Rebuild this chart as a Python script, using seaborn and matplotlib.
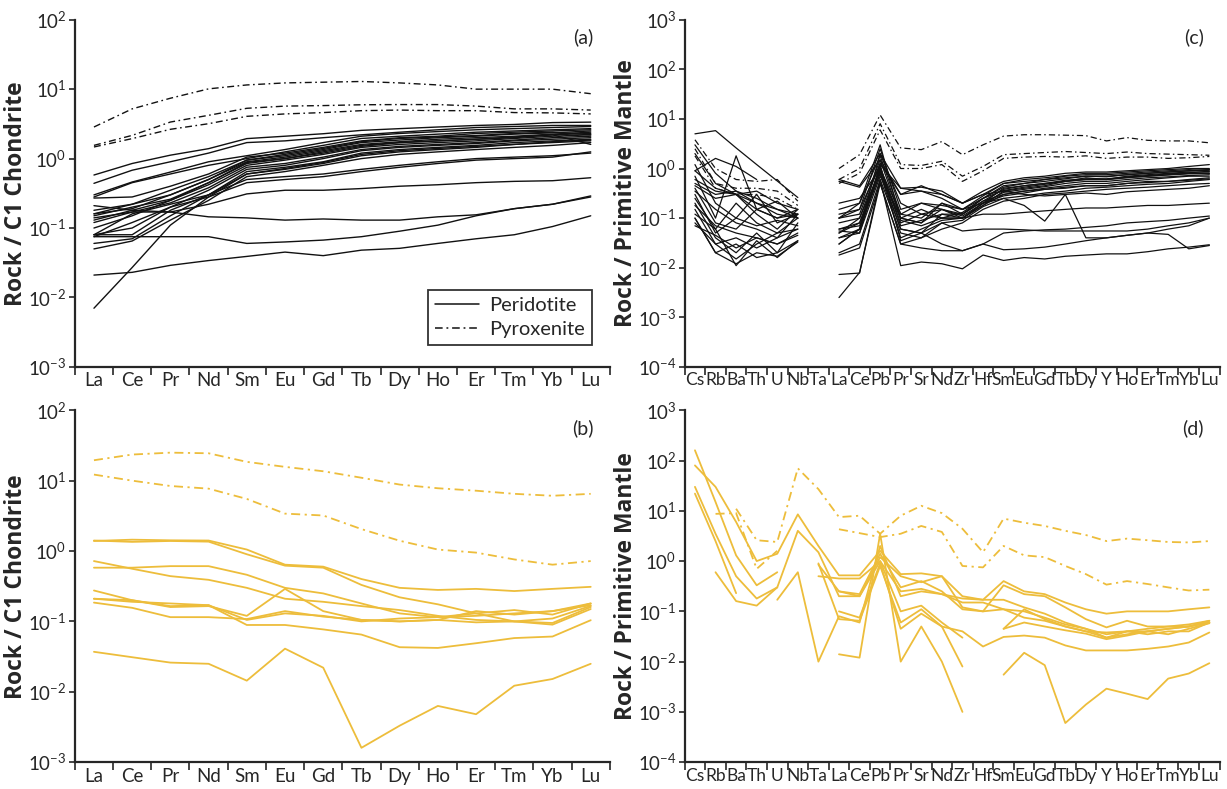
import numpy as np
import pandas as pd
import matplotlib
matplotlib.use('Agg')
import matplotlib.pyplot as plt
from matplotlib.lines import Line2D
from matplotlib.ticker import NullLocator
import seaborn as sns

nan = np.nan

# element order on the x axes
ree = ['La', 'Ce', 'Pr', 'Nd', 'Sm', 'Eu', 'Gd', 'Tb', 'Dy', 'Ho', 'Er', 'Tm', 'Yb', 'Lu']
spider = ['Cs', 'Rb', 'Ba', 'Th', 'U', 'Nb', 'Ta', 'La', 'Ce', 'Pb', 'Pr', 'Sr', 'Nd',
          'Zr', 'Hf', 'Sm', 'Eu', 'Gd', 'Tb', 'Dy', 'Y', 'Ho', 'Er', 'Tm', 'Yb', 'Lu']

# (a) chondrite normalised REE, black samples
a_peridotite = [
    [0.58, 0.85, 1.12, 1.39, 1.94, 2.1, 2.28, 2.55, 2.7, 2.85, 3.0, 3.1, 3.3, 3.35],
    [0.44, 0.68, 0.9, 1.2, 1.7, 1.8, 2.0, 2.2, 2.4, 2.6, 2.8, 2.9, 3.0, 3.0],
    [0.30, 0.46, 0.64, 0.9, 1.1, 1.35, 1.7, 2.1, 2.3, 2.45, 2.6, 2.7, 2.8, 2.9],
    [0.28, 0.45, 0.6, 0.8, 1.0, 1.25, 1.55, 1.95, 2.1, 2.25, 2.4, 2.5, 2.6, 2.7],
    [0.27, 0.28, 0.4, 0.6, 1.05, 1.2, 1.45, 1.8, 2.0, 2.1, 2.3, 2.4, 2.5, 2.6],
    [0.18, 0.22, 0.35, 0.55, 0.95, 1.1, 1.35, 1.7, 1.85, 2.0, 2.1, 2.25, 2.35, 2.5],
    [0.16, 0.19, 0.3, 0.5, 0.9, 1.05, 1.3, 1.6, 1.75, 1.9, 2.0, 2.1, 2.25, 2.4],
    [0.15, 0.2, 0.26, 0.45, 0.85, 1.0, 1.2, 1.5, 1.7, 1.8, 1.9, 2.0, 2.2, 2.3],
    [0.13, 0.18, 0.25, 0.42, 0.8, 0.95, 1.15, 1.45, 1.6, 1.7, 1.8, 1.95, 2.1, 2.2],
    [0.12, 0.17, 0.23, 0.38, 0.75, 0.85, 1.05, 1.35, 1.5, 1.6, 1.7, 1.85, 2.0, 2.1],
    [0.08, 0.1, 0.2, 0.35, 0.7, 0.8, 1.0, 1.3, 1.45, 1.55, 1.65, 1.8, 1.9, 2.0],
    [0.08, 0.08, 0.18, 0.3, 0.65, 0.75, 0.9, 1.2, 1.35, 1.45, 1.55, 1.7, 1.8, 1.9],
    [0.06, 0.07, 0.15, 0.3, 0.6, 0.7, 0.85, 1.1, 1.25, 1.35, 1.45, 1.6, 1.7, 1.8],
    [0.05, 0.065, 0.13, 0.25, 0.55, 0.65, 0.8, 1.0, 1.15, 1.25, 1.35, 1.45, 1.55, 1.7],
    [0.007, 0.027, 0.11, 0.28, 0.6, 0.72, 0.88, 1.15, 1.3, 1.4, 1.5, 1.6, 1.75, 1.85],
    [0.08, 0.16, 0.22, 0.3, 0.5, 0.55, 0.6, 0.7, 0.8, 0.9, 1.0, 1.05, 1.1, 1.2],
    [0.075, 0.12, 0.2, 0.28, 0.45, 0.5, 0.55, 0.65, 0.75, 0.85, 0.95, 1.0, 1.05, 1.25],
    [0.14, 0.17, 0.17, 0.22, 0.31, 0.35, 0.35, 0.37, 0.4, 0.42, 0.45, 0.47, 0.48, 0.53],
    [0.21, 0.18, 0.17, 0.145, 0.14, 0.13, 0.135, 0.13, 0.13, 0.145, 0.155, 0.19, 0.22, 0.29],
    [0.075, 0.075, 0.075, 0.075, 0.06, 0.063, 0.067, 0.075, 0.09, 0.11, 0.15, 0.19, 0.22, 0.28],
    [0.021, 0.023, 0.029, 0.034, 0.039, 0.045, 0.04, 0.048, 0.051, 0.06, 0.07, 0.08, 0.105, 0.15],
    [0.16, 0.22, 0.3, 0.5, 0.95, 1.15, 1.4, 1.75, 1.95, 2.05, 2.15, 2.3, 2.4, 2.2],
    [0.1, 0.15, 0.25, 0.45, 0.88, 1.0, 1.25, 1.55, 1.7, 1.8, 1.9, 2.05, 2.2, 1.6],
]
a_pyroxenite = [
    [2.85, 5.2, 7.4, 10.1, 11.5, 12.3, 12.6, 12.9, 12.3, 11.5, 10.0, 10.0, 10.0, 8.6],
    [1.55, 2.16, 3.36, 4.2, 5.3, 5.7, 5.8, 5.96, 6.0, 6.0, 5.7, 5.2, 5.2, 5.0],
    [1.47, 1.94, 2.64, 3.18, 4.06, 4.4, 4.6, 4.9, 5.0, 4.9, 4.9, 4.6, 4.55, 4.4],
]

# (b) chondrite normalised REE, yellow samples
b_peridotite = [
    [1.39, 1.45, 1.42, 1.41, 1.05, 0.64, 0.6, 0.40, 0.30, 0.28, 0.29, 0.27, 0.29, 0.31],
    [1.41, 1.35, 1.39, 1.36, 0.9, 0.62, 0.58, 0.33, 0.22, 0.175, 0.13, 0.10, 0.09, 0.15],
    [0.72, 0.56, 0.44, 0.39, 0.30, 0.21, 0.19, 0.165, 0.145, 0.12, 0.105, 0.10, 0.095, 0.16],
    [0.58, 0.58, 0.61, 0.61, 0.46, 0.30, 0.25, 0.18, 0.13, 0.115, 0.12, 0.13, 0.14, 0.18],
    [0.275, 0.20, 0.16, 0.165, 0.12, 0.29, 0.14, 0.105, 0.10, 0.105, 0.14, 0.125, 0.14, 0.17],
    [0.21, 0.19, 0.18, 0.17, 0.089, 0.089, 0.077, 0.065, 0.043, 0.042, 0.049, 0.058, 0.061, 0.104],
    [0.185, 0.156, 0.115, 0.115, 0.108, 0.14, 0.117, 0.105, 0.10, 0.105, 0.097, 0.10, 0.11, 0.166],
    [0.21, 0.2, 0.165, 0.17, 0.105, 0.13, 0.12, 0.1, 0.11, 0.115, 0.13, 0.145, 0.125, 0.18],
    [0.037, 0.031, 0.026, 0.025, 0.0144, 0.041, 0.022, 0.0016, 0.0033, 0.0063, 0.0048, 0.0122, 0.0152, 0.025],
]
b_pyroxenite = [
    [19.5, 23.5, 25.0, 24.5, 18.5, 15.7, 13.6, 11.0, 8.8, 7.8, 7.2, 6.5, 6.1, 6.5],
    [12.2, 10.0, 8.4, 7.7, 5.5, 3.4, 3.2, 2.05, 1.4, 1.05, 0.95, 0.76, 0.64, 0.72],
]

# (c) primitive mantle normalised, black samples
c_peridotite = [
    [5.0, 5.8, 2.6, 1.2, 0.56, 0.26, nan, 0.6, 0.45, 2.0, 0.4, 0.42, 0.35, 0.2, 0.35, 0.55, 0.65, 0.7, 0.8, 0.85, 0.85, 0.9, 0.95, 1.0, 1.1, 1.2],
    [0.9, 1.6, 1.1, 0.6, nan, nan, nan, 0.55, 0.42, 1.5, 0.3, 0.35, 0.3, 0.2, 0.3, 0.5, 0.6, 0.65, 0.72, 0.8, 0.8, 0.85, 0.9, 0.95, 1.0, 1.0],
    [0.7, 0.1, 1.8, 0.15, 0.1, 0.12, nan, 0.1, 0.2, 1.8, 0.12, 0.1, 0.2, 0.12, 0.25, 0.45, 0.5, 0.6, 0.65, 0.7, 0.7, 0.75, 0.8, 0.85, 0.9, 0.95],
    [0.6, 0.35, 0.3, 0.35, 0.2, 0.15, nan, 0.1, 0.15, 1.2, 0.4, 0.35, 0.25, 0.15, 0.28, 0.5, 0.55, 0.6, 0.7, 0.75, 0.75, 0.8, 0.85, 0.9, 0.95, 0.9],
    [0.5, 0.3, 0.35, 0.2, 0.12, 0.1, nan, 0.05, 0.1, 0.9, 0.1, 0.08, 0.15, 0.11, 0.2, 0.4, 0.45, 0.5, 0.55, 0.65, 0.6, 0.7, 0.75, 0.8, 0.85, 0.85],
    [0.4, 0.08, 0.06, 0.15, 0.1, 0.15, nan, 0.06, 0.08, 1.0, 0.08, 0.12, 0.1, 0.1, 0.18, 0.35, 0.4, 0.45, 0.55, 0.6, 0.6, 0.65, 0.7, 0.75, 0.8, 0.8],
    [0.3, 0.05, 0.1, 0.3, 0.08, 0.12, nan, 0.03, 0.06, 0.8, 0.06, 0.05, 0.12, 0.12, 0.22, 0.3, 0.35, 0.4, 0.45, 0.5, 0.5, 0.55, 0.6, 0.65, 0.7, 0.7],
    [0.25, 0.06, 0.2, 0.08, 0.05, 0.1, nan, 0.04, 0.05, 0.7, 0.1, 0.15, 0.1, 0.1, 0.2, 0.28, 0.32, 0.38, 0.42, 0.45, 0.45, 0.5, 0.55, 0.55, 0.6, 0.65],
    [0.2, 0.04, 0.02, 0.05, 0.02, 0.08, nan, 0.02, 0.03, 0.6, 0.05, 0.04, 0.08, 0.09, 0.17, 0.25, 0.28, 0.32, 0.35, 0.4, 0.42, 0.45, 0.48, 0.5, 0.55, 0.6],
    [0.15, 0.03, 0.015, 0.03, 0.05, 0.06, nan, 0.018, 0.025, 0.5, 0.03, 0.04, 0.06, 0.08, 0.15, 0.22, 0.25, 0.3, 0.32, 0.35, 0.38, 0.4, 0.42, 0.45, 0.48, 0.5],
    [0.12, 0.06, 0.011, 0.035, 0.016, 0.035, nan, 0.1, 0.12, 1.5, 0.1, 0.08, 0.2, 0.15, 0.2, 0.25, 0.18, 0.087, 0.3, 0.04, 0.04, 0.045, 0.05, 0.06, 0.07, 0.1],
    [0.1, 0.02, 0.03, 0.016, 0.02, 0.035, nan, 0.03, 0.06, 2.0, 0.2, 0.12, 0.15, 0.1, 0.12, 0.12, 0.13, 0.14, 0.15, 0.16, 0.16, 0.17, 0.18, 0.18, 0.19, 0.2],
    [0.08, 0.03, 0.04, 0.025, 0.04, 0.12, nan, 0.05, 0.08, 0.9, 0.06, 0.05, 0.08, 0.055, 0.06, 0.06, 0.058, 0.055, 0.055, 0.055, 0.055, 0.055, 0.06, 0.07, 0.08, 0.1],
    [3.0, 0.8, 0.35, 0.25, 0.15, 0.1, nan, 0.055, 0.05, 1.2, 0.035, 0.05, 0.03, 0.022, 0.03, 0.023, 0.024, 0.026, 0.03, 0.035, 0.04, 0.045, 0.05, 0.047, 0.024, 0.028],
    [0.1, 0.02, 0.012, 0.02, 0.017, 0.033, nan, 0.0073, 0.0078, 0.6, 0.011, 0.013, 0.012, 0.0095, 0.018, 0.014, 0.016, 0.015, 0.017, 0.018, 0.019, 0.019, 0.021, 0.024, 0.026, 0.029],
    [0.18, 0.07, 0.05, 0.04, 0.03, 0.05, nan, 0.0025, 0.008, 0.5, 0.03, 0.025, 0.022, 0.022, 0.03, 0.05, 0.055, 0.058, 0.06, 0.065, 0.07, 0.08, 0.085, 0.09, 0.1, 0.11],
    [0.9, 0.4, 0.3, 0.2, 0.15, 0.12, nan, 0.12, 0.15, 2.5, 0.15, 0.2, 0.18, 0.15, 0.25, 0.42, 0.5, 0.55, 0.62, 0.7, 0.68, 0.75, 0.8, 0.85, 0.9, 0.95],
    [2.0, 0.5, 0.3, 0.15, 0.22, 0.1, nan, 0.2, 0.25, 1.0, 0.12, 0.2, 0.15, 0.12, 0.22, 0.38, 0.45, 0.5, 0.58, 0.62, 0.62, 0.68, 0.72, 0.78, 0.82, 0.88],
    [0.35, 0.15, 0.08, 0.06, 0.04, 0.06, nan, 0.06, 0.07, 0.8, 0.04, 0.06, 0.09, 0.1, 0.18, 0.3, 0.35, 0.38, 0.4, 0.45, 0.45, 0.5, 0.52, 0.55, 0.58, 0.62],
    [0.45, 0.25, 0.3, 0.12, 0.06, 0.15, nan, 0.08, 0.1, 1.3, 0.3, 0.45, 0.3, 0.2, 0.3, 0.35, 0.3, 0.28, 0.3, 0.32, 0.3, 0.34, 0.36, 0.38, 0.4, 0.45],
    [1.2, 0.2, 0.1, 0.07, 0.09, 0.07, nan, 0.15, 0.2, 3.0, 0.09, 0.07, 0.1, 0.13, 0.25, 0.36, 0.42, 0.48, 0.55, 0.6, 0.6, 0.66, 0.7, 0.74, 0.78, 0.8],
    [0.07, 0.045, 0.025, 0.04, 0.03, 0.045, nan, 0.04, 0.06, 1.1, 0.07, 0.09, 0.12, 0.1, 0.2, 0.33, 0.38, 0.43, 0.5, 0.55, 0.55, 0.6, 0.65, 0.68, 0.72, 0.75],
]
c_pyroxenite = [
    [3.8, 1.0, 0.6, 0.55, 0.6, 0.22, nan, 1.0, 1.9, 12.0, 2.6, 2.4, 3.5, 1.9, 3.0, 4.5, 4.8, 4.8, 4.7, 4.6, 3.6, 4.2, 3.7, 3.6, 3.6, 3.3],
    [2.5, 0.5, 0.4, 0.4, 0.35, 0.18, nan, 0.6, 1.0, 8.0, 1.2, 1.15, 1.4, 0.7, 1.1, 1.9, 2.0, 2.1, 2.2, 2.1, 2.0, 2.15, 2.0, 1.95, 1.9, 1.85],
    [1.8, 0.4, 0.3, 0.3, 0.25, 0.15, nan, 0.5, 0.8, 6.0, 1.0, 1.0, 1.2, 0.55, 0.9, 1.6, 1.7, 1.75, 1.7, 1.8, 1.6, 1.7, 1.7, 1.6, 1.65, 1.75],
]

# (d) primitive mantle normalised, yellow samples
d_peridotite = [
    [80, 30, 6.0, 1.0, 1.4, 8.5, 2.0, 0.52, 0.52, 1.6, 0.55, 0.57, 0.5, 0.2, 0.17, 0.4, 0.25, 0.22, 0.15, 0.11, 0.09, 0.1, 0.1, 0.1, 0.11, 0.12],
    [160, 15, 1.3, 0.33, 0.6, nan, nan, 0.25, 0.2, 1.2, 0.5, 0.38, 0.5, 0.12, 0.1, 0.33, 0.22, 0.2, 0.12, 0.07, 0.048, 0.065, 0.05, 0.05, 0.055, 0.065],
    [30, 3.5, 0.5, 0.18, 0.3, 4.0, 1.5, 0.2, 0.2, 1.0, 0.25, 0.28, 0.22, 0.18, 0.17, 0.17, 0.12, 0.09, 0.06, 0.045, 0.035, 0.04, 0.045, 0.05, 0.05, 0.06],
    [22, 2.5, 0.23, nan, nan, nan, 0.9, 0.07, 0.065, 0.8, 0.06, 0.11, 0.05, 0.008, nan, 0.045, 0.11, 0.07, 0.05, 0.04, 0.03, 0.04, 0.035, 0.04, 0.04, 0.06],
    [nan, 0.6, 0.16, 0.13, 0.3, nan, nan, 0.1, 0.075, 0.9, 0.045, 0.09, 0.05, 0.04, 0.02, 0.031, 0.033, 0.03, 0.021, 0.0167, 0.0167, 0.0167, 0.018, 0.02, 0.024, 0.038],
    [nan, nan, nan, nan, 0.17, 0.6, 0.01, 0.08, 0.06, 2.0, 0.2, 0.25, 0.22, 0.15, 0.15, 0.11, 0.075, 0.065, 0.05, 0.04, 0.038, 0.04, 0.04, 0.045, 0.05, 0.065],
    [nan, nan, nan, nan, nan, nan, nan, 0.014, 0.012, 3.5, 0.01, 0.05, 0.01, 0.001, nan, 0.0055, 0.015, 0.0085, 0.0006, 0.0014, 0.0029, 0.0023, 0.0018, 0.0046, 0.0058, 0.0093],
    [nan, nan, nan, nan, nan, nan, 0.5, 0.45, 0.45, 1.0, 0.1, 0.13, 0.06, 0.03, nan, 0.045, 0.06, 0.05, 0.042, 0.036, 0.028, 0.033, 0.04, 0.035, 0.045, 0.058],
    [nan, nan, nan, nan, nan, nan, 0.85, 0.25, 0.22, 1.4, 0.3, 0.4, 0.25, 0.11, 0.1, 0.11, 0.1, 0.075, 0.055, 0.045, 0.03, 0.035, 0.04, 0.045, 0.05, 0.06],
]
d_pyroxenite = [
    [nan, nan, 11.0, 2.6, 2.4, 70.0, 27.0, 7.5, 8.0, 3.5, 8.0, 12.6, 9.0, 4.4, 1.5, 7.0, 5.8, 5.0, 4.0, 3.3, 2.5, 2.8, 2.6, 2.4, 2.35, 2.5],
    [nan, 8.7, 9.0, 0.7, 1.6, nan, nan, 4.3, 3.6, 3.0, 3.5, 5.0, 3.8, 0.8, 0.75, 2.0, 1.3, 1.2, 0.8, 0.55, 0.34, 0.4, 0.35, 0.3, 0.26, 0.27],
]

black = '#111111'
yellow = '#EDBD3B'
pyx_dash = (5, 2.5, 1.2, 2.5)


def to_long(lines, rock, n):
    # break every sample at missing values so gaps stay open
    rows = []
    for i, vals in enumerate(lines):
        if len(vals) != n:
            raise ValueError(f'{rock} line {i} has {len(vals)} values, expected {n}')
        seg = 0
        gap = True
        for j, v in enumerate(vals):
            if np.isnan(v):
                gap = True
                continue
            if gap:
                seg += 1
                gap = False
            rows.append({'x': j + 0.5, 'y': v, 'unit': f'{rock}{i}_{seg}', 'rock': rock})
    return pd.DataFrame(rows)


def draw_panel(ax, perid, pyrox, labels, color, lw, ylim, ylabel, tag, label_size):
    n = len(labels)
    df = pd.concat([to_long(perid, 'Peridotite', n), to_long(pyrox, 'Pyroxenite', n)],
                   ignore_index=True)
    sns.lineplot(data=df, x='x', y='y', units='unit', estimator=None, sort=False,
                 style='rock', dashes={'Peridotite': '', 'Pyroxenite': pyx_dash},
                 color=color, lw=lw, legend=False, ax=ax)
    ax.set_yscale('log')
    ax.set_ylim(*ylim)
    ax.set_xlim(0, n)
    lo, hi = int(np.log10(ylim[0])), int(np.log10(ylim[1]))
    ax.set_yticks([10.0 ** k for k in range(lo, hi + 1)])
    ax.yaxis.set_minor_locator(NullLocator())
    # tick marks between the elements, names centred in each slot
    ax.set_xticks(np.arange(n + 1))
    ax.set_xticklabels([])
    ax.set_xticks(np.arange(n) + 0.5, minor=True)
    ax.set_xticklabels(labels, minor=True, fontsize=label_size)
    ax.tick_params(axis='x', which='minor', length=0, pad=4)
    ax.tick_params(axis='x', which='major', length=6, width=1.2, direction='out')
    ax.tick_params(axis='y', which='major', length=4, width=1.2, labelsize=13.5, pad=2)
    ax.set_xlabel('')
    ax.set_ylabel(ylabel, fontsize=16.5, fontweight='bold', family=['Open Sans', 'DejaVu Sans'], labelpad=0)
    for s in ['left', 'bottom']:
        ax.spines[s].set_linewidth(1.6)
    ax.text(0.97, 0.975, tag, transform=ax.transAxes, ha='right', va='top', fontsize=14)


sns.set_style('ticks')
plt.rcParams['font.family'] = ['Lato', 'DejaVu Sans']
plt.rcParams['mathtext.fontset'] = 'custom'
plt.rcParams['mathtext.rm'] = 'Lato'

fig = plt.figure(figsize=(12.27, 7.89), dpi=100)
ax_a = fig.add_axes([0.061, 0.535, 0.436, 0.44])
ax_c = fig.add_axes([0.558, 0.535, 0.436, 0.44])
ax_b = fig.add_axes([0.061, 0.034, 0.436, 0.446])
ax_d = fig.add_axes([0.558, 0.034, 0.436, 0.446])

draw_panel(ax_a, a_peridotite, a_pyroxenite, ree, black, 1.0, (1e-3, 1e2),
           'Rock / C1 Chondrite', '(a)', 13.5)
draw_panel(ax_b, b_peridotite, b_pyroxenite, ree, yellow, 1.3, (1e-3, 1e2),
           'Rock / C1 Chondrite', '(b)', 13.5)
draw_panel(ax_c, c_peridotite, c_pyroxenite, spider, black, 0.9, (1e-4, 1e3),
           'Rock / Primitive Mantle', '(c)', 12.5)
draw_panel(ax_d, d_peridotite, d_pyroxenite, spider, yellow, 1.3, (1e-4, 1e3),
           'Rock / Primitive Mantle', '(d)', 12.5)
sns.despine(fig=fig)

handles = [Line2D([], [], color=black, lw=1.1, label='Peridotite'),
           Line2D([], [], color=black, lw=1.1, dashes=pyx_dash, label='Pyroxenite')]
leg = ax_a.legend(handles=handles, loc='lower right', bbox_to_anchor=(0.985, 0.035),
                  fontsize=14.5, frameon=True, fancybox=False, handlelength=2.2,
                  borderpad=0.35, labelspacing=0.3, handletextpad=0.5)
leg.get_frame().set_edgecolor('black')
leg.get_frame().set_linewidth(1.3)

fig.savefig('out.png', dpi=100)
